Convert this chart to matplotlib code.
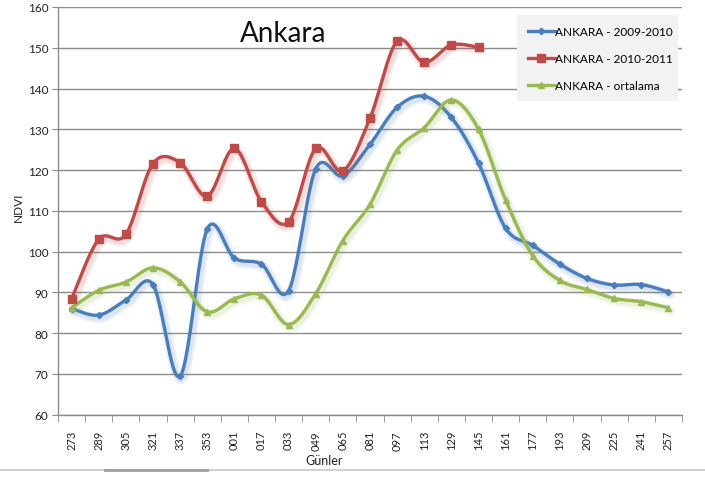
import numpy as np
import matplotlib
matplotlib.use("Agg")
import matplotlib.pyplot as plt
import matplotlib.patheffects as pe
from matplotlib.lines import Line2D

days = ["273", "289", "305", "321", "337", "353", "001", "017", "033", "049", "065", "081",
        "097", "113", "129", "145", "161", "177", "193", "209", "225", "241", "257"]
ankara_2009_2010 = [86.0, 84.4, 88.1, 91.9, 69.4, 105.5, 98.4, 96.9, 90.4, 120.3, 118.6, 126.3,
                    135.4, 138.1, 132.9, 121.7, 105.7, 101.5, 96.9, 93.4, 91.8, 91.9, 90.1]
ankara_2010_2011 = [88.4, 103.0, 104.2, 121.6, 121.8, 113.6, 125.3, 112.2, 107.3, 125.3, 119.8,
                    132.7, 151.6, 146.4, 150.7, 150.1]
ankara_ortalama = [86.2, 90.5, 92.5, 96.0, 92.6, 85.2, 88.4, 89.3, 82.1, 89.7, 102.7, 111.6,
                   124.9, 130.4, 137.2, 130.0, 112.6, 99.0, 92.9, 90.7, 88.5, 87.7, 86.2]
series_names = ["ANKARA - 2009-2010", "ANKARA - 2010-2011", "ANKARA - ortalama"]

plt.rcParams['font.family'] = ['Lato', 'DejaVu Sans']


def smooth(yvals, n=24):
    y = np.asarray(yvals, float)
    x = np.arange(len(y), dtype=float)
    xs, ys = [], []
    m = len(y)
    for i in range(m - 1):
        i0 = max(i - 1, 0)
        i3 = min(i + 2, m - 1)
        px = [x[i], x[i] + (x[i + 1] - x[i0]) / 6, x[i + 1] - (x[i3] - x[i]) / 6, x[i + 1]]
        py = [y[i], y[i] + (y[i + 1] - y[i0]) / 6, y[i + 1] - (y[i3] - y[i]) / 6, y[i + 1]]
        t = np.linspace(0, 1, n, endpoint=(i == m - 2))
        b = [(1 - t) ** 3, 3 * (1 - t) ** 2 * t, 3 * (1 - t) * t ** 2, t ** 3]
        xs.append(sum(bk * pk for bk, pk in zip(b, px)))
        ys.append(sum(bk * pk for bk, pk in zip(b, py)))
    return np.concatenate(xs), np.concatenate(ys)


fig = plt.figure(figsize=(7.05, 4.81), dpi=100)
ax = fig.add_axes([58 / 705, 1 - 415.6 / 481, 624 / 705, 407.6 / 481])

colors = ["#4A7EBB", "#BE4B48", "#98B954"]
markers = ["D", "s", "^"]
msizes = [3.2, 6, 5]
data = [ankara_2009_2010, ankara_2010_2011, ankara_ortalama]

for vals, c, mk, ms, name in zip(data, colors, markers, msizes, series_names):
    sx, sy = smooth(vals)
    ax.plot(sx, sy, color=c, lw=2.4, solid_capstyle='round', zorder=3,
            path_effects=[pe.SimpleLineShadow(offset=(1.5, -2), shadow_color=c, alpha=0.1, linewidth=7),
                          pe.SimpleLineShadow(offset=(1.5, -2), shadow_color=c, alpha=0.1, linewidth=4),
                          pe.Normal()])
    ax.plot(np.arange(len(vals)), vals, linestyle='none', marker=mk, markersize=ms,
            color=c, zorder=4)

ax.set_xlim(-0.5, len(days) - 0.5)
ax.set_ylim(60, 160)
ax.set_yticks(np.arange(60, 161, 10))
ax.set_xticks(np.arange(len(days)))
ax.set_xticklabels(days, rotation=90, fontsize=8, color='#222222')
ax.set_xticks(np.arange(-0.5, len(days)), minor=True)
ax.tick_params(axis='x', which='major', length=0, pad=11)
ax.tick_params(axis='x', which='minor', length=5, color='#8c8c8c')
ax.tick_params(axis='y', length=4, color='#8c8c8c', labelsize=8.5, labelcolor='#222222', pad=3)
ax.grid(axis='y', color='#8c8c8c', lw=1.0)
ax.set_axisbelow(True)
for s in ['top', 'right']:
    ax.spines[s].set_visible(False)
for s in ['left', 'bottom']:
    ax.spines[s].set_color('#8c8c8c')
    ax.spines[s].set_linewidth(1.0)

ax.set_ylabel("NDVI", fontsize=8.5, color='#222222')
ax.set_xlabel("Günler", fontsize=9, color='#222222')
ax.xaxis.set_label_coords(0.427, -0.097)
ax.yaxis.set_label_coords(-0.055, 0.51)

ax.text(0.36, 0.935, "Ankara", transform=ax.transAxes, ha='center', va='center',
        fontsize=20, color='#111111')

handles = [Line2D([0], [0], color=c, lw=2.4, marker=mk, markersize=ms)
           for c, mk, ms in zip(colors, markers, msizes)]
leg = ax.legend(handles, series_names, loc='upper left',
                bbox_to_anchor=(0.7356, 0.78, 0.258, 0.2), mode='expand',
                fontsize=8.5, frameon=True, fancybox=False, labelspacing=1.35,
                handlelength=2.3, handletextpad=0.0, borderpad=0.9, borderaxespad=0)
leg.get_frame().set_facecolor('#f2f2f2')
leg.get_frame().set_edgecolor('none')
leg.get_frame().set_alpha(1)

fig.add_artist(Line2D([0, 1], [1 - 471 / 481] * 2, color='#c8c8c8', lw=1.2))
fig.add_artist(Line2D([105 / 705, 207 / 705], [1 - 471 / 481] * 2, color='#a0a0a0', lw=2))

fig.savefig("out.png", dpi=100)
